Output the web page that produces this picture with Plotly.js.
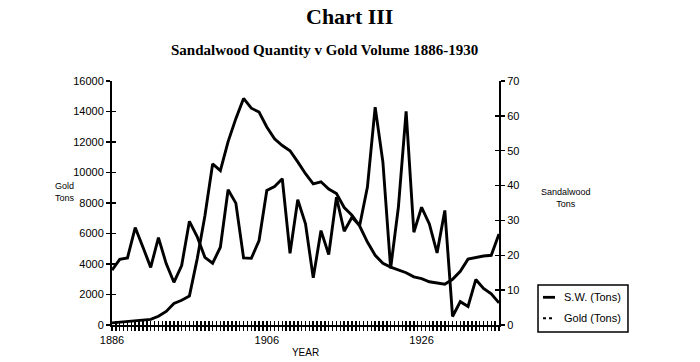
<!DOCTYPE html>
<html>
<head>
<meta charset="utf-8">
<script src="https://cdn.plot.ly/plotly-3.0.1.min.js"></script>
<style>html,body{margin:0;padding:0;background:#fff;}#chart{width:700px;height:362px;}</style>
</head>
<body>
<div id="chart"></div>
<script>
// Years (one point per year)
const years = [1886,1887,1888,1889,1890,1891,1892,1893,1894,1895,
               1896,1897,1898,1899,1900,1901,1902,1903,1904,1905,
               1906,1907,1908,1909,1910,1911,1912,1913,1914,1915,
               1916,1917,1918,1919,1920,1921,1922,1923,1924,1925,
               1926,1927,1928,1929,1930,1931,1932,1933,1934,1935,1936];

// S.W. (Tons) - left axis
const swTons = [3600,4300,4400,6390,5100,3780,5730,4030,2800,3900,
                6800,5800,4440,4050,5100,8870,7990,4400,4370,5540,
                8820,9080,9590,4700,8210,6630,3090,6190,4620,8380,
                6150,7070,6520,9040,14290,10680,3720,7720,14010,6080,
                7720,6630,4730,7510,560,1530,1220,2980,2400,2040,1450];

// Gold (Tons) - right axis
const goldTons = [0.6,0.8,0.9,1.0,1.2,1.6,2.5,3.9,6.2,7.1,
                  8.3,18.9,31.3,46.2,44.3,52.6,59.2,65.0,62.2,61.1,
                  56.8,53.4,51.5,50.0,46.8,43.4,40.5,41.1,39.0,37.7,
                  33.7,31.5,28.4,23.8,20.0,17.7,16.6,15.7,15.0,13.8,
                  13.3,12.4,12.1,11.7,13.1,15.4,18.9,19.4,19.8,20.0,26.1];

const xLabelYears = [1886,1906,1926];
const seriesNames = ['S.W. (Tons)','Gold (Tons)'];

const FONT = 'Liberation Sans, Arial, sans-serif';
const SERIF = 'Liberation Serif, Times New Roman, serif';

const xr = [1886, 1936];

const traces = [
  {x: years, y: swTons, type:'scatter', mode:'lines', name: seriesNames[0],
   line:{color:'#000', width:2.9}, xaxis:'x', yaxis:'y', showlegend:false, hoverinfo:'skip'},
  {x: years, y: goldTons, type:'scatter', mode:'lines', name: seriesNames[1],
   line:{color:'#000', width:2.9}, xaxis:'x', yaxis:'y2', showlegend:false, hoverinfo:'skip'},
  // invisible copies that only make the tick-only overlay axes render
  {x: years, y: swTons, type:'scatter', mode:'lines', opacity:0, line:{width:0},
   xaxis:'x2', yaxis:'y3', showlegend:false, hoverinfo:'skip'},
  {x: years, y: goldTons, type:'scatter', mode:'lines', opacity:0, line:{width:0},
   xaxis:'x2', yaxis:'y4', showlegend:false, hoverinfo:'skip'}
];

const layout = {
  width:700, height:362,
  margin:{l:112, r:201, t:81, b:37, pad:0},
  paper_bgcolor:'#fff', plot_bgcolor:'#fff',
  font:{family:FONT, size:11, color:'#000'},
  showlegend:false,
  xaxis:{
    range:xr, showgrid:false, zeroline:false,
    showline:true, linecolor:'#000', linewidth:1.5,
    tickmode:'array', tickvals:xLabelYears, ticktext:xLabelYears.map(String),
    ticks:'outside', ticklen:4, tickwidth:1.5, tickcolor:'#000',
    minor:{tickmode:'linear', tick0:1886, dtick:0.5, ticks:'outside', ticklen:4, tickwidth:1.5, tickcolor:'#000', showgrid:false},
    tickfont:{family:FONT, size:11, color:'#000'},
    title:{text:'YEAR', font:{family:FONT, size:10, color:'#000'}, standoff:4}
  },
  xaxis2:{
    range:xr, overlaying:'x', anchor:'y', side:'bottom',
    showgrid:false, zeroline:false, showline:false, showticklabels:false,
    tickmode:'linear', tick0:1886, dtick:0.5,
    ticks:'inside', ticklen:4, tickwidth:1.5, tickcolor:'#000'
  },
  yaxis:{
    range:[0,16000], showgrid:false, zeroline:false,
    showline:true, linecolor:'#000', linewidth:2,
    tickmode:'linear', tick0:0, dtick:2000, tickformat:'d',
    ticks:'outside', ticklen:4, tickwidth:1.3, tickcolor:'#000',
    tickfont:{family:FONT, size:11, color:'#000'}
  },
  yaxis3:{
    range:[0,16000], overlaying:'y', anchor:'x2', side:'left',
    showgrid:false, zeroline:false, showline:false, showticklabels:false,
    tickmode:'linear', tick0:0, dtick:2000,
    ticks:'inside', ticklen:4, tickwidth:1.3, tickcolor:'#000'
  },
  yaxis2:{
    range:[0,70], overlaying:'y', side:'right', anchor:'x',
    showgrid:false, zeroline:false,
    showline:true, linecolor:'#000', linewidth:2,
    tickmode:'linear', tick0:0, dtick:10,
    ticks:'outside', ticklen:4, tickwidth:1.3, tickcolor:'#000',
    tickfont:{family:FONT, size:11, color:'#000'}
  },
  yaxis4:{
    range:[0,70], overlaying:'y', side:'right', anchor:'x2',
    showgrid:false, zeroline:false, showline:false, showticklabels:false,
    tickmode:'linear', tick0:0, dtick:10,
    ticks:'inside', ticklen:4, tickwidth:1.3, tickcolor:'#000'
  },
  annotations:[
    {text:'<b>Chart III</b>', xref:'paper', yref:'paper', x:0.6137, y:1.263,
     xanchor:'center', yanchor:'middle', showarrow:false, font:{family:SERIF, size:22, color:'#000'}},
    {text:'<b>Sandalwood Quantity v Gold Volume 1886-1930</b>', xref:'paper', yref:'paper', x:0.548, y:1.128,
     xanchor:'center', yanchor:'middle', showarrow:false, font:{family:SERIF, size:15, color:'#000'}},
    {text:'Gold<br>Tons', xref:'paper', yref:'paper', x:-0.152, y:0.546,
     xanchor:'left', yanchor:'middle', align:'left', showarrow:false, font:{family:FONT, size:9, color:'#000'}},
    {text:'Sandalwood<br>Tons', xref:'paper', yref:'paper', x:1.174, y:0.52,
     xanchor:'center', yanchor:'middle', align:'center', showarrow:false, font:{family:FONT, size:9, color:'#000'}},
    {text:seriesNames[0], xref:'paper', yref:'paper', x:1.162, y:0.1135,
     xanchor:'left', yanchor:'middle', showarrow:false, font:{family:FONT, size:11, color:'#000'}},
    {text:seriesNames[1], xref:'paper', yref:'paper', x:1.162, y:0.0275,
     xanchor:'left', yanchor:'middle', showarrow:false, font:{family:FONT, size:11, color:'#000'}}
  ],
  shapes:[
    {type:'rect', xref:'paper', yref:'paper', x0:1.1008, x1:1.3333, y0:-0.0287, y1:0.164,
     line:{color:'#000', width:1.5}, fillcolor:'rgba(0,0,0,0)'},
    {type:'line', xref:'paper', yref:'paper', x0:1.1137, x1:1.1447, y0:0.1135, y1:0.1135,
     line:{color:'#000', width:2.8}},
    {type:'line', xref:'paper', yref:'paper', x0:1.1137, x1:1.1447, y0:0.0275, y1:0.0275,
     line:{color:'#000', width:2, dash:'dot'}}
  ]
};

Plotly.newPlot('chart', traces, layout, {displayModeBar:false, staticPlot:true});
</script>
</body>
</html>
